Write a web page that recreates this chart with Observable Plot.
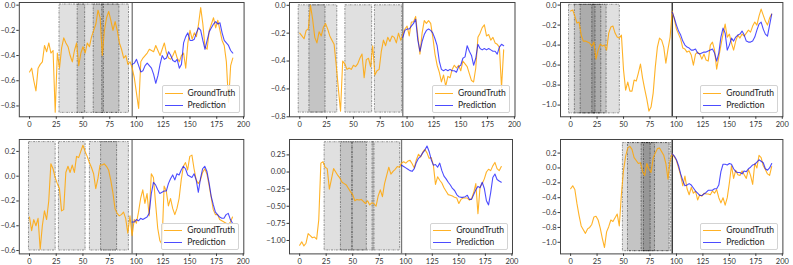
<!DOCTYPE html>
<html><head><meta charset="utf-8">
<script src="https://cdn.jsdelivr.net/npm/d3@7"></script>
<script src="https://cdn.jsdelivr.net/npm/@observablehq/plot@0.6"></script>
<style>
body{margin:0;background:#fff;}
#root{position:relative;width:793px;height:265px;overflow:hidden;font-family:Lato,"DejaVu Sans",sans-serif;}
.panel{position:absolute;}
.legend{position:absolute;background:rgba(255,255,255,0.8);border:1px solid #d3d3d3;border-radius:2px;box-sizing:border-box;width:78px;height:27.5px;font-size:8.5px;color:#222;}
.row{position:absolute;left:0;height:11px;line-height:11px;white-space:nowrap;}
.sw{position:absolute;left:2px;top:5px;width:18px;height:0;border-top:1.5px solid;}
.lab{position:absolute;left:25px;top:0;}
</style></head><body><div id="root"></div><script>
const xTicks = [0,25,50,75,100,125,150,175,200];
const seriesNames = ["GroundTruth","Prediction"];

// Panel 1
const gt1 = [-0.53,-0.50,-0.60,-0.68,-0.50,-0.47,-0.45,-0.32,-0.37,-0.30,-0.38,-0.36,-0.85,-0.38,-0.50,-0.34,-0.26,-0.30,-0.33,-0.40,-0.45,-0.36,-0.30,-0.48,-0.38,-0.33,-0.38,-0.30,-0.33,-0.25,-0.20,-0.15,-0.04,-0.10,-0.40,-0.20,-0.10,-0.05,-0.12,-0.20,-0.13,-0.20,-0.30,-0.35,-0.42,-0.40,-0.47,-0.45,-0.50,-0.58,-0.70,-0.82,-0.45,-0.42,-0.40,-0.38,-0.35,-0.36,-0.37,-0.32,-0.36,-0.40,-0.35,-0.30,-0.38,-0.42,-0.43,-0.40,-0.36,-0.42,-0.45,-0.40,-0.38,-0.50,-0.30,-0.20,-0.27,-0.22,-0.25,-0.15,-0.02,-0.15,-0.33,-0.35,-0.20,-0.15,-0.10,-0.18,-0.12,-0.20,-0.28,-0.32,-0.45,-0.77,-0.48,-0.42];
const pred1 = [-0.47,-0.46,-0.43,-0.48,-0.53,-0.52,-0.48,-0.46,-0.48,-0.50,-0.55,-0.62,-0.56,-0.47,-0.40,-0.43,-0.42,-0.37,-0.40,-0.44,-0.45,-0.43,-0.50,-0.47,-0.30,-0.25,-0.22,-0.28,-0.28,-0.27,-0.22,-0.18,-0.20,-0.28,-0.35,-0.28,-0.21,-0.18,-0.15,-0.13,-0.15,-0.14,-0.22,-0.28,-0.30,-0.32,-0.36,-0.38];
const span1Start = [28,45,60,68];
const span1End = [52,69.5,93,84];
const span1Y = [-0.855,0.005];
const yTicks1 = [0,-0.2,-0.4,-0.6,-0.8];

// Panel 2
const gt2 = [-0.20,-0.22,-0.24,-0.18,-0.17,0.00,-0.10,-0.23,-0.27,-0.19,-0.22,-0.16,-0.13,-0.17,-0.22,-0.25,-0.28,-0.43,-0.60,-0.76,-0.40,-0.42,-0.46,-0.45,-0.46,-0.43,-0.44,-0.42,-0.38,-0.35,-0.52,-0.39,-0.38,-0.44,-0.29,-0.50,-0.47,-0.46,-0.33,-0.25,-0.29,-0.23,-0.26,-0.22,-0.23,-0.27,-0.20,-0.25,-0.21,-0.17,-0.15,-0.22,-0.12,-0.12,-0.08,-0.22,-0.35,-0.20,-0.11,-0.13,-0.11,-0.13,-0.23,-0.35,-0.43,-0.48,-0.55,-0.50,-0.58,-0.51,-0.52,-0.46,-0.43,-0.45,-0.43,-0.47,-0.40,-0.42,-0.44,-0.49,-0.54,-0.55,-0.45,-0.23,-0.20,-0.16,-0.14,-0.22,-0.21,-0.25,-0.23,-0.27,-0.28,-0.30,-0.59,-0.32];
const pred2 = [-0.23,-0.18,-0.17,-0.17,-0.15,-0.13,-0.10,-0.25,-0.33,-0.26,-0.21,-0.18,-0.17,-0.18,-0.20,-0.24,-0.29,-0.40,-0.46,-0.47,-0.46,-0.47,-0.46,-0.47,-0.47,-0.48,-0.44,-0.43,-0.38,-0.37,-0.29,-0.33,-0.36,-0.43,-0.38,-0.28,-0.31,-0.32,-0.31,-0.32,-0.31,-0.32,-0.33,-0.33,-0.35,-0.30,-0.28,-0.29];
const span2Start = [-1,9,42.5,70];
const span2End = [24,35,67.5,95.5];
const span2Y = [-0.77,0.0];
const yTicks2 = [0,-0.2,-0.4,-0.6,-0.8];

// Panel 3
const gt3 = [-0.06,-0.05,-0.11,-0.18,-0.17,-0.30,-0.36,-0.36,-0.37,-0.38,-0.41,-0.37,-0.54,-0.45,-0.39,-0.41,-0.40,-0.45,-0.28,-0.22,-0.21,-0.28,-0.32,-0.33,-0.30,-0.65,-0.85,-0.77,-0.86,-0.86,-0.75,-0.76,-0.68,-0.59,-0.73,-0.84,-0.94,-1.06,-1.02,-0.88,-0.62,-0.42,-0.33,-0.35,-0.42,-0.58,-0.44,-0.32,-0.06,-0.14,-0.24,-0.29,-0.34,-0.43,-0.44,-0.47,-0.46,-0.50,-0.60,-0.49,-0.47,-0.49,-0.54,-0.49,-0.55,-0.56,-0.40,-0.37,-0.45,-0.64,-0.52,-0.40,-0.29,-0.19,-0.32,-0.29,-0.38,-0.45,-0.36,-0.30,-0.33,-0.29,-0.31,-0.28,-0.25,-0.27,-0.21,-0.17,-0.20,-0.11,-0.04,-0.10,-0.16,-0.20,-0.13,-0.09];
const pred3 = [-0.07,-0.13,-0.20,-0.26,-0.30,-0.36,-0.40,-0.42,-0.43,-0.45,-0.45,-0.44,-0.48,-0.49,-0.48,-0.47,-0.47,-0.46,-0.45,-0.44,-0.48,-0.56,-0.48,-0.32,-0.23,-0.28,-0.45,-0.40,-0.33,-0.36,-0.32,-0.30,-0.29,-0.26,-0.30,-0.36,-0.37,-0.37,-0.36,-0.32,-0.25,-0.19,-0.17,-0.24,-0.29,-0.31,-0.20,-0.09];
const span3Start = [-1.5,4,9.5,20.5];
const span3End = [23.5,29,34,46.5];
const span3Y = [-1.083,0.003];
const yTicks3 = [0,-0.2,-0.4,-0.6,-0.8,-1.0];

// Panel 4
const gt4 = [-0.33,-0.44,-0.35,-0.40,-0.34,-0.59,-0.40,-0.28,-0.35,-0.20,0.10,0.06,-0.01,-0.06,-0.10,-0.28,-0.27,0.03,0.08,0.03,0.09,0.03,0.16,0.15,0.20,0.25,0.20,0.16,0.11,0.07,0.02,-0.10,-0.02,0.09,0.09,0.10,0.08,0.05,-0.03,-0.13,-0.26,-0.30,-0.32,-0.31,-0.29,-0.34,-0.46,-0.32,-0.48,-0.35,-0.38,-0.29,-0.18,-0.11,-0.22,-0.14,-0.32,0.02,-0.01,-0.22,-0.42,-0.52,-0.55,-0.08,-0.12,-0.24,-0.18,-0.26,-0.31,-0.26,-0.18,-0.03,0.08,0.11,0.05,0.16,0.17,0.06,-0.03,-0.06,-0.03,0.03,0.06,0.02,-0.07,-0.17,-0.27,-0.31,-0.31,-0.35,-0.36,-0.37,-0.38,-0.39,-0.37,-0.33];
const pred4 = [-0.37,-0.37,-0.35,-0.36,-0.34,-0.35,-0.34,-0.33,-0.30,-0.14,-0.05,-0.07,-0.11,-0.14,-0.13,-0.12,-0.12,-0.06,-0.02,0.01,-0.03,0.02,0.01,0.05,0.08,0.06,0.01,0.00,-0.01,0.02,-0.03,-0.13,-0.02,0.06,0.08,0.04,-0.05,-0.16,-0.23,-0.29,-0.31,-0.33,-0.34,-0.34,-0.31,-0.30,-0.35,-0.38];
const span4Start = [-0.5,27.5,56.5,67];
const span4End = [24.5,52.5,93,82];
const span4Y = [-0.60,0.275];
const yTicks4 = [0.2,0,-0.2,-0.4,-0.6];

// Panel 5
const gt5 = [-1.07,-1.02,-1.08,-1.04,-0.90,-0.93,-0.96,-0.95,-0.98,-0.70,0.13,0.15,0.07,0.05,-0.25,-0.10,0.05,0.00,-0.05,-0.09,-0.15,-0.17,-0.19,-0.24,-0.29,-0.33,-0.42,-0.40,-0.41,-0.40,-0.43,-0.46,-0.42,-0.48,-0.45,-0.46,-0.50,-0.35,-0.26,-0.36,-0.17,-0.05,0.07,-0.03,0.01,0.04,0.08,0.07,0.13,0.15,0.13,0.16,0.17,0.12,0.06,0.18,0.26,0.22,0.29,0.33,0.28,0.20,0.21,0.10,-0.18,-0.07,-0.12,-0.16,-0.23,-0.28,-0.33,-0.34,-0.35,-0.37,-0.38,-0.46,-0.40,-0.38,-0.38,-0.38,-0.41,-0.39,-0.30,-0.17,-0.61,-0.22,-0.17,-0.10,0.00,0.04,0.02,0.09,0.14,0.05,0.02,0.08];
const pred5 = [0.10,0.08,0.06,0.04,0.02,0.01,0.05,0.14,0.20,0.23,0.28,0.32,0.38,0.30,0.18,0.10,0.11,0.07,0.13,0.02,-0.06,-0.10,-0.15,-0.19,-0.24,-0.27,-0.33,-0.36,-0.37,-0.37,-0.36,-0.34,-0.40,-0.40,-0.33,-0.26,-0.21,-0.23,-0.15,-0.24,-0.42,-0.48,-0.30,-0.08,-0.03,-0.11,-0.13,-0.15];
const span5Start = [23.5,38.9,49.8,68.7];
const span5End = [49.8,63.3,70.5,94.7];
const span5Y = [-1.146,0.435];
const yTicks5 = [0.25,0,-0.25,-0.5,-0.75,-1.0];

// Panel 6
const gt6 = [-0.28,-0.24,-0.29,-0.48,-0.64,-0.78,-0.83,-0.88,-0.82,-0.80,-0.76,-0.66,-0.65,-0.70,-0.81,-0.95,-1.07,-0.86,-0.79,-0.70,-0.72,-0.67,-0.62,-0.78,-0.35,-0.03,0.16,0.27,0.29,0.25,0.14,0.10,0.06,0.07,-0.05,-0.10,0.06,-0.01,-0.06,0.13,0.20,0.26,0.27,0.22,0.17,0.06,-0.15,0.10,0.19,0.15,0.10,0.00,-0.10,-0.24,-0.11,-0.28,-0.36,-0.26,-0.34,-0.31,-0.43,-0.36,-0.38,-0.34,-0.35,-0.35,-0.36,-0.31,-0.34,-0.29,-0.40,-0.47,-0.40,-0.50,-0.40,-0.20,0.03,-0.14,-0.03,-0.09,-0.10,-0.04,-0.09,-0.14,-0.02,-0.10,-0.22,0.06,0.00,0.17,0.14,0.03,-0.02,-0.08,-0.10,0.02];
const pred6 = [0.19,0.16,0.11,0.03,-0.08,-0.17,-0.24,-0.23,-0.21,-0.23,-0.27,-0.31,-0.34,-0.37,-0.37,-0.35,-0.33,-0.30,-0.30,-0.30,-0.28,-0.28,-0.23,-0.05,0.05,0.05,0.04,0.06,0.05,-0.01,-0.05,-0.06,-0.06,-0.08,-0.04,-0.05,-0.01,0.01,0.04,0.05,0.08,0.11,0.09,0.07,-0.01,-0.03,0.00,0.06];
const span6Start = [49.4,54.2,67.1,69.3];
const span6End = [75.6,93.5,95.1,79.7];
const span6Y = [-1.12,0.335];
const yTicks6 = [0.2,0,-0.2,-0.4,-0.6,-0.8,-1.0];

const splitX = 96;

const panels = [
  {gt:gt1,pred:pred1,s0:span1Start,s1:span1End,sy:span1Y,ticks:yTicks1,fmt:".1f",dom:[-0.886,0.021],left:18.8,top:1.7,w:224.8,h:114.3,vcol:"#777"},
  {gt:gt2,pred:pred2,s0:span2Start,s1:span2End,sy:span2Y,ticks:yTicks2,fmt:".1f",dom:[-0.80,0.02],left:288.5,top:1.7,w:225.5,h:114.3,vcol:"#777"},
  {gt:gt3,pred:pred3,s0:span3Start,s1:span3End,sy:span3Y,ticks:yTicks3,fmt:".1f",dom:[-1.117,0.026],left:559.9,top:1.7,w:222.4,h:114.3,vcol:"#222"},
  {gt:gt4,pred:pred4,s0:span4Start,s1:span4End,sy:span4Y,ticks:yTicks4,fmt:".1f",dom:[-0.627,0.296],left:18.8,top:139.3,w:224.5,h:114.4,vcol:"#777"},
  {gt:gt5,pred:pred5,s0:span5Start,s1:span5End,sy:span5Y,ticks:yTicks5,fmt:".2f",dom:[-1.196,0.475],left:289.2,top:139.3,w:223,h:114.4,vcol:"#777"},
  {gt:gt6,pred:pred6,s0:span6Start,s1:span6End,sy:span6Y,ticks:yTicks6,fmt:".1f",dom:[-1.156,0.383],left:559.9,top:139.3,w:222.4,h:114.4,vcol:"#222"}
];

const root = document.getElementById("root");
const mR = 4, mT = 2, mB = 16;
panels.forEach(p => {
  const mL = Math.min(32, p.left);
  const gtData = p.gt.map((v,i) => ({x:i*2, y:v}));
  const prData = p.pred.map((v,i) => ({x:splitX + i*2, y:v}));
  const rects = p.s0.map((a,i) => ({x1:a, x2:p.s1[i], y1:p.sy[0], y2:p.sy[1]}));
  const svg = Plot.plot({
    width: mL + p.w + mR, height: mT + p.h + mB,
    marginLeft: mL, marginRight: mR, marginTop: mT, marginBottom: mB,
    style: {fontFamily:"Lato, 'DejaVu Sans', sans-serif", fontSize:"7.5px", color:"#333", background:"transparent", overflow:"visible"},
    x: {domain:[-9.55,200.55], ticks:xTicks, tickSize:2.5, tickPadding:2, label:null, tickFormat:d3.format("d")},
    y: {domain:p.dom, ticks:p.ticks, tickSize:2.5, tickPadding:1.5, label:null, tickFormat:d3.format(p.fmt)},
    marks: [
      Plot.rect(rects, {x1:"x1", x2:"x2", y1:"y1", y2:"y2", fill:"black", fillOpacity:0.12, stroke:"black", strokeOpacity:0.6, strokeWidth:0.7, strokeDasharray:"2,1,0.7,1"}),
      Plot.ruleX([splitX], {stroke:p.vcol, strokeWidth:1.3}),
      Plot.line(gtData, {x:"x", y:"y", stroke:"#ffa500", strokeOpacity:0.85, strokeWidth:1.1}),
      Plot.line(prData, {x:"x", y:"y", stroke:"#0000ff", strokeOpacity:0.7, strokeWidth:1.1}),
      Plot.frame({stroke:"#444", strokeWidth:1})
    ]
  });
  svg.classList.add("panel");
  svg.style.left = (p.left - mL) + "px";
  svg.style.top = (p.top - mT) + "px";
  root.appendChild(svg);

  const lg = document.createElement("div");
  lg.className = "legend";
  lg.style.left = (p.left + p.w - 4 - 78) + "px";
  lg.style.top = (p.top + p.h - 3.5 - 27.5) + "px";
  const colors = ["rgba(255,165,0,0.85)","rgba(0,0,255,0.7)"];
  seriesNames.forEach((name,i) => {
    const row = document.createElement("div");
    row.className = "row";
    row.style.top = (1.5 + i*12) + "px";
    row.style.width = "76px";
    const sw = document.createElement("span");
    sw.className = "sw"; sw.style.borderTopColor = colors[i];
    const lab = document.createElement("span");
    lab.className = "lab"; lab.textContent = name;
    row.appendChild(sw); row.appendChild(lab);
    lg.appendChild(row);
  });
  root.appendChild(lg);
});
</script></body></html>
